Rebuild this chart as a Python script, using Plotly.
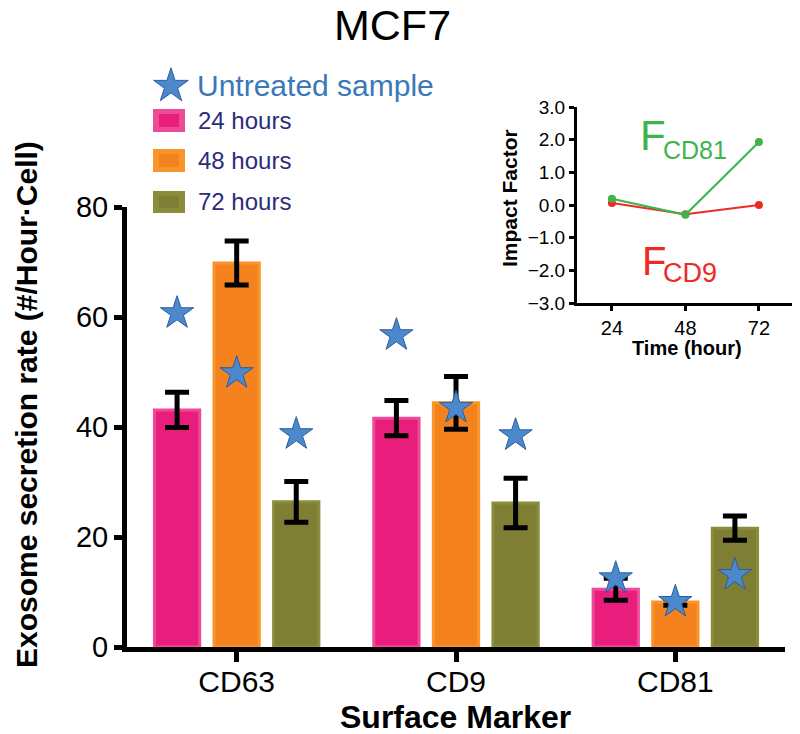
import plotly.graph_objects as go

# ---------------- data ----------------
markers = ["CD63", "CD9", "CD81"]
time_groups = ["24 hours", "48 hours", "72 hours"]
rate_24 = [43.1, 41.6, 10.5]
rate_48 = [69.8, 44.4, 8.2]
rate_72 = [26.4, 26.2, 21.6]
err_24 = [3.2, 3.2, 2.0]
err_48 = [4.0, 4.8, 0.6]
err_72 = [3.7, 4.5, 2.2]
untreated_24 = [60.7, 56.7, 12.5]
untreated_48 = [49.8, 43.5, 8.2]
untreated_72 = [38.7, 38.5, 13.1]

inset_time = [24, 48, 72]
impact_cd81 = [0.19, -0.30, 1.93]
impact_cd9 = [0.06, -0.28, 0.00]

y_ticks = [0, 20, 40, 60, 80]
inset_yticks = [-3, -2, -1, 0, 1, 2, 3]

# ---------------- styles ----------------
OFF = 8                       # page body margin of the browser
W, H = 800 - OFF, 734 - OFF   # figure size so the page fits the window
FONT = "Liberation Sans, Arial, Helvetica, sans-serif"
bar_fill = ["#E91E7C", "#F4821F", "#7E7E34"]
bar_edge = ["#EF4A97", "#F9962B", "#8B8D3B"]
star_fill = "#4B88CC"
star_edge = "#2C5D9E"

def fx(p):
    return (p - OFF) / W

def fy(p):
    return 1 - (p - OFF) / H

BARGAP = 0.185
slot = (1 - BARGAP) / 3

fig = go.Figure()

rates = [rate_24, rate_48, rate_72]
errs = [err_24, err_48, err_72]
stars = [untreated_24, untreated_48, untreated_72]
xi = list(range(len(markers)))

for k in range(3):
    fig.add_trace(go.Bar(
        x=xi, y=rates[k], name=time_groups[k], offsetgroup=str(k),
        marker=dict(color=bar_fill[k], line=dict(color=bar_edge[k], width=3)),
        error_y=dict(type="data", array=errs[k], visible=True,
                     color="black", thickness=5, width=12),
        showlegend=False, xaxis="x", yaxis="y",
    ))

for k in range(3):
    fig.add_trace(go.Scatter(
        x=[i + (k - 1) * slot for i in xi], y=stars[k], mode="markers",
        marker=dict(symbol="star", size=25, color=star_fill,
                    line=dict(color=star_edge, width=1)),
        showlegend=False, xaxis="x", yaxis="y",
    ))

# inset lines
fig.add_trace(go.Scatter(
    x=inset_time, y=impact_cd9, mode="lines+markers",
    line=dict(color="#EE2A24", width=2), marker=dict(size=8, color="#EE2A24"),
    showlegend=False, xaxis="x2", yaxis="y2"))
fig.add_trace(go.Scatter(
    x=inset_time, y=impact_cd81, mode="lines+markers",
    line=dict(color="#3DB54A", width=2), marker=dict(size=8, color="#3DB54A"),
    showlegend=False, xaxis="x2", yaxis="y2"))

# legend star (full-paper helper axis in pixel units)
fig.add_trace(go.Scatter(
    x=[171], y=[86], mode="markers",
    marker=dict(symbol="star", size=26, color=star_fill,
                line=dict(color=star_edge, width=1)),
    showlegend=False, xaxis="x3", yaxis="y3", hoverinfo="skip"))

fig.update_layout(
    template="none",
    width=W, height=H, autosize=False,
    margin=dict(l=0, r=0, t=0, b=0, pad=0, autoexpand=False),
    paper_bgcolor="white", plot_bgcolor="rgba(0,0,0,0)",
    barmode="group", bargap=BARGAP, bargroupgap=0.24,
    font=dict(family=FONT, color="black"),
    showlegend=False,
    xaxis=dict(domain=[fx(127), fx(785)], range=[-0.5, 2.5],
               tickvals=xi, ticktext=markers, automargin=False,
               showline=True, linewidth=5, linecolor="black",
               ticks="outside", ticklen=10, tickwidth=5, tickcolor="black",
               ticklabelstandoff=-6,
               tickfont=dict(size=30), showgrid=False, zeroline=False,
               anchor="y", fixedrange=True),
    yaxis=dict(domain=[fy(647), fy(207)], range=[0, 80],
               tickvals=y_ticks, automargin=False,
               showline=True, linewidth=5, linecolor="black",
               ticks="outside", ticklen=8, tickwidth=5, tickcolor="black",
               tickfont=dict(size=29), showgrid=False, zeroline=False,
               anchor="x", fixedrange=True),
    xaxis2=dict(domain=[fx(577), fx(792)], range=[12.6, 82.8],
                tickvals=inset_time, anchor="y2", automargin=False,
                showline=True, linewidth=3, linecolor="black",
                ticks="outside", ticklen=5, tickwidth=3, tickcolor="black",
                tickfont=dict(size=20), showgrid=False, zeroline=False),
    yaxis2=dict(domain=[fy(303), fy(107)], range=[-3, 3],
                tickvals=inset_yticks, tickformat=".1f", anchor="x2",
                automargin=False,
                showline=True, linewidth=3, linecolor="black",
                ticks="outside", ticklen=5, tickwidth=3, tickcolor="black",
                tickfont=dict(size=19), showgrid=False, zeroline=False),
    xaxis3=dict(domain=[0, 1], range=[OFF, 800], visible=False, anchor="y3",
                automargin=False, fixedrange=True),
    yaxis3=dict(domain=[0, 1], range=[734, OFF], visible=False, anchor="x3",
                automargin=False, fixedrange=True),
)

shapes = []
sq_y = [(109, 132), (149, 172), (191, 213)]
for k in range(3):
    y0, y1 = sq_y[k]
    shapes.append(dict(type="rect", xref="paper", yref="paper",
                       x0=fx(153), x1=fx(185), y0=fy(y1), y1=fy(y0),
                       fillcolor=bar_edge[k], line=dict(width=0)))
    shapes.append(dict(type="rect", xref="paper", yref="paper",
                       x0=fx(159), x1=fx(179), y0=fy(y1 - 5), y1=fy(y0 + 5),
                       fillcolor=bar_fill[k], line=dict(width=0)))
fig.update_layout(shapes=shapes)

ann = []
def A(text, x, y, size, color="black", xanchor="center", yanchor="middle",
      angle=0, bold=False):
    t = f"<b>{text}</b>" if bold else text
    ann.append(dict(text=t, x=fx(x), y=fy(y), xref="paper", yref="paper",
                    xanchor=xanchor, yanchor=yanchor, showarrow=False,
                    textangle=angle, font=dict(size=size, color=color)))

A("MCF7", 392, 25, 43)
A("Exosome secretion rate (#/Hour·Cell)", 26, 405, 30, angle=-90, bold=True)
A("Surface Marker", 455, 717, 32, bold=True)
A("Untreated sample", 195, 85, 30, color="#3A78B8", xanchor="left")
for k, lab in enumerate(time_groups):
    A(lab, 196, (sq_y[k][0] + sq_y[k][1]) / 2, 24, color="#2B2C7C", xanchor="left")
A("Impact Factor", 510, 198, 21, angle=-90, bold=True)
A("Time (hour)", 687, 348, 20, bold=True)
A("F", 638, 135, 42, color="#3DB54A", xanchor="left")
A("CD81", 661, 150, 25, color="#3DB54A", xanchor="left")
A("F", 640, 261, 40, color="#EE2A24", xanchor="left")
A("CD9", 661, 273, 27, color="#EE2A24", xanchor="left")
fig.update_layout(annotations=ann)

fig.write_html("out.html")
